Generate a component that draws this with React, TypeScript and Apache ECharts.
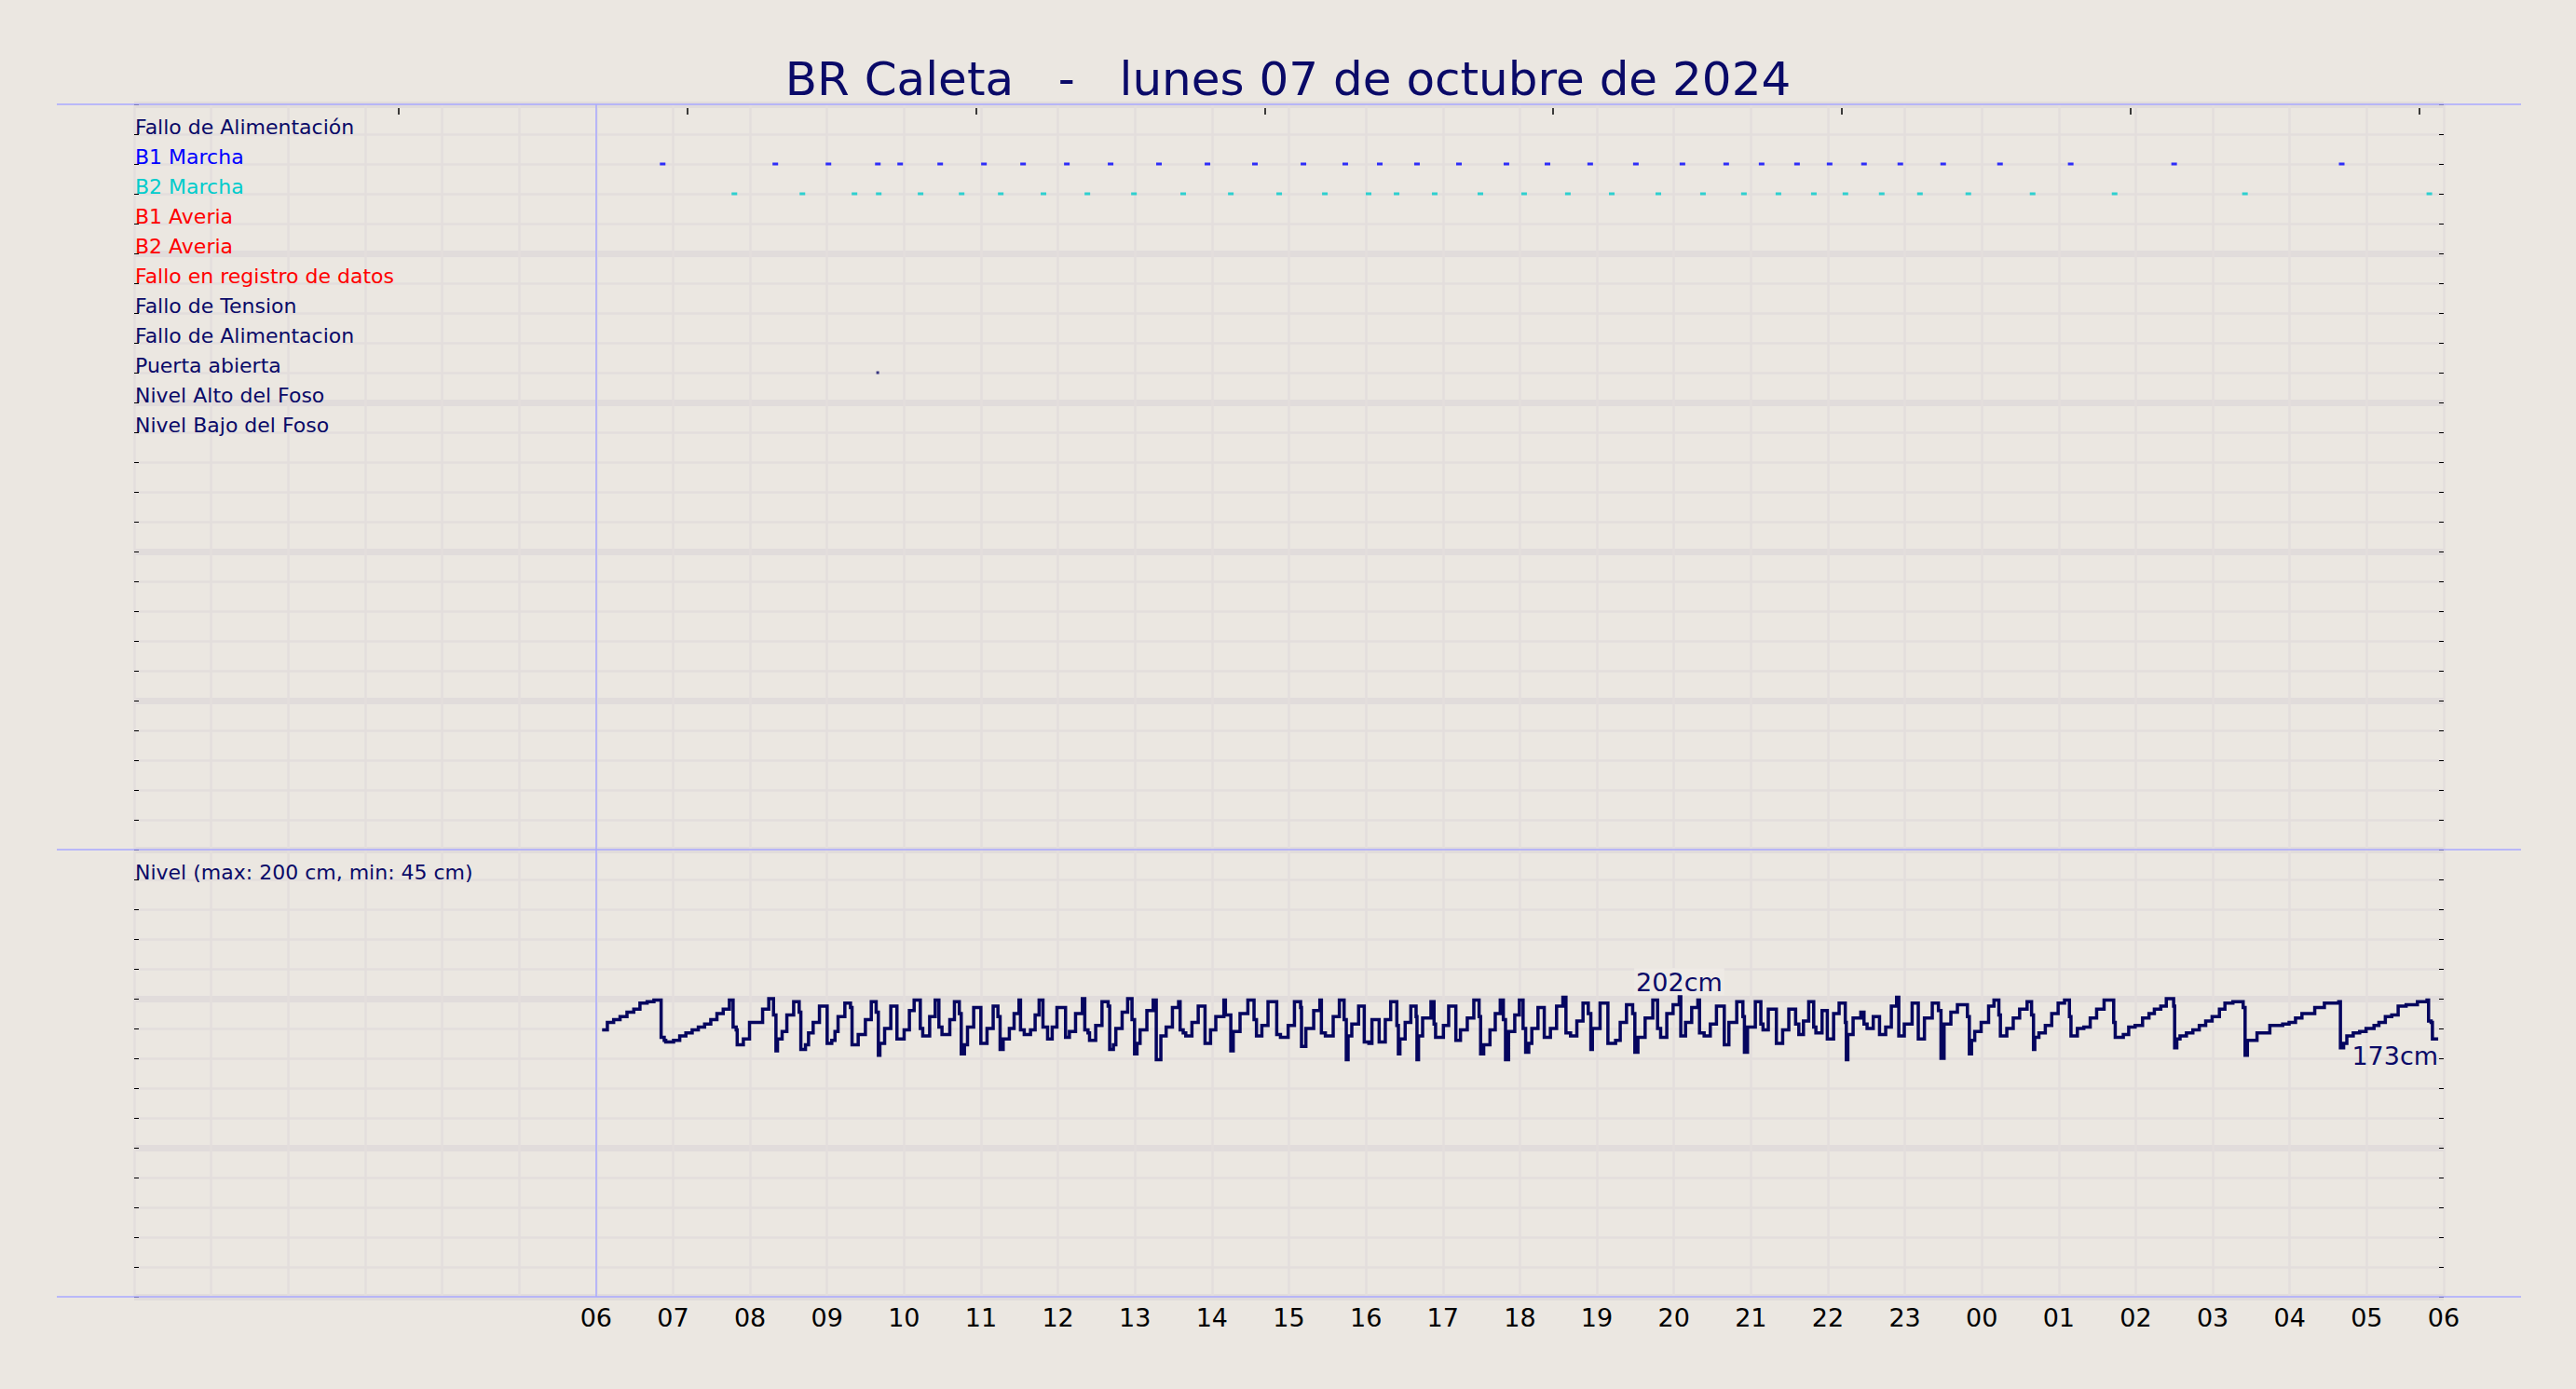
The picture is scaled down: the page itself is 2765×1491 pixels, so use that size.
import React, { useEffect, useRef } from 'react';
import * as echarts from 'echarts';

// ---------- texts ----------
const TITLE = 'BR Caleta   -   lunes 07 de octubre de 2024';
const upperLabels = [
  'Fallo de Alimentación',
  'B1 Marcha',
  'B2 Marcha',
  'B1 Averia',
  'B2 Averia',
  'Fallo en registro de datos',
  'Fallo de Tension',
  'Fallo de Alimentacion',
  'Puerta abierta',
  'Nivel Alto del Foso',
  'Nivel Bajo del Foso',
];
const NAVY = '#0a0a68';
const upperLabelColors = [NAVY, '#0000ff', '#00cccc', '#ff0000', '#ff0000', '#ff0000', NAVY, NAVY, NAVY, NAVY, NAVY];
const levelLabel = 'Nivel (max: 200 cm, min: 45 cm)';
const hourLabels = ['06', '07', '08', '09', '10', '11', '12', '13', '14', '15', '16', '17', '18', '19', '20', '21', '22', '23', '00', '01', '02', '03', '04', '05', '06'];
// top axis tick positions (minutes from 06:00)
const topTickMinutes = [-154, 71, 296, 521, 746, 971, 1196, 1421];

// ---------- events (minutes after 06:00) ----------
const b1MarchaMin = [51.9, 139.7, 181.1, 219.6, 237.0, 268.2, 302.3, 332.8, 366.9, 401.0, 438.7, 476.5, 513.5, 551.3, 583.9, 610.8, 639.8, 672.5, 709.5, 741.5, 774.8, 810.4, 846.7, 880.8, 908.4, 936.0, 961.4, 988.2, 1016.5, 1049.9, 1094.2, 1149.3, 1229.9, 1360.5];
const b2MarchaMin = [107.8, 160.8, 201.4, 220.3, 252.9, 284.9, 315.4, 348.7, 382.9, 419.2, 457.6, 494.7, 532.4, 568.0, 602.1, 623.9, 653.6, 689.2, 723.3, 757.4, 791.6, 827.9, 862.7, 894.6, 921.5, 949.1, 973.7, 1002.0, 1031.8, 1069.5, 1119.6, 1183.5, 1285.1, 1428.8];
const puertaAbiertaMin = [219.5];

// ---------- level readings [minutes after 06:00, cm] ----------
const levelReadings: [number, number][] = [
  [4.7, 179], [8.8, 184], [13.7, 186], [18.7, 188], [24.1, 191], [29.4, 193], [34.2, 197], [39.8, 198], [45.1, 199],
  [50.7, 174], [53.1, 172], [54.3, 171], [60.4, 172], [65.2, 175], [70.0, 177], [74.9, 179], [79.7, 181], [84.6, 183], [89.4, 186], [94.2, 190], [99.1, 193], [103.9, 199],
  [106.8, 181], [109.2, 179], [110.0, 169], [114.8, 173], [119.6, 184], [129.8, 193], [134.6, 200],
  [138.3, 189], [140.2, 165], [141.4, 173], [145.0, 178], [148.7, 189], [154.0, 198],
  [158.3, 191], [159.6, 166], [163.2, 169], [165.6, 177], [169.2, 184], [174.1, 195],
  [180.1, 170], [183.7, 172], [186.2, 178], [188.6, 188], [193.9, 197],
  [198.3, 194], [199.5, 169], [204.3, 176], [209.9, 186], [214.5, 198],
  [218.3, 191], [220.0, 162], [221.2, 170], [224.9, 180], [229.7, 195],
  [234.5, 173], [240.1, 179], [244.2, 192], [247.9, 199],
  [252.7, 180], [254.6, 175], [260.0, 188], [264.3, 199],
  [267.2, 181], [269.6, 176], [275.7, 186], [279.3, 198],
  [283.1, 190], [284.6, 163], [287.1, 169], [289.5, 181], [294.3, 194],
  [299.9, 170], [304.7, 180], [309.5, 195],
  [313.2, 188], [314.9, 166], [317.3, 173], [322.1, 180], [325.8, 190], [329.6, 199],
  [330.8, 179], [333.7, 176], [338.6, 179], [342.2, 189], [345.3, 199],
  [348.3, 181], [351.9, 173],
  [355.5, 181], [359.2, 194], [365.9, 174], [368.9, 178], [373.7, 190], [379.0, 200],
  [380.9, 179], [383.4, 177], [384.6, 172], [389.4, 182], [394.3, 198],
  [399.1, 195], [400.3, 166], [403.2, 169], [405.1, 180], [410.0, 191], [414.3, 200],
  [417.7, 186], [419.7, 163], [421.6, 170], [424.0, 179], [429.3, 192], [434.2, 199],
  [436.6, 159], [440.2, 175], [444.3, 181], [449.2, 194], [454.0, 198],
  [455.2, 179], [457.6, 177], [459.6, 175], [464.4, 184], [469.3, 195],
  [474.6, 170], [478.9, 179], [483.0, 188], [489.3, 199],
  [490.5, 189], [494.7, 165], [496.6, 178], [501.9, 190], [508.0, 199],
  [512.8, 186], [514.7, 175], [518.9, 182], [523.7, 198],
  [530.5, 176], [533.4, 174], [539.4, 182], [544.3, 198],
  [549.1, 194], [549.8, 168], [553.2, 180], [559.3, 192], [564.1, 199],
  [565.3, 177], [568.4, 175], [574.5, 188], [579.3, 199],
  [583.0, 186], [584.7, 159], [586.1, 175], [589.0, 183], [594.3, 195],
  [598.7, 171], [602.3, 170], [604.7, 186], [610.3, 171], [615.1, 186], [619.3, 198],
  [624.1, 182], [625.3, 163], [626.5, 173], [630.6, 184], [635.0, 195],
  [639.1, 188], [639.8, 159], [641.0, 175], [644.2, 187], [650.7, 198],
  [653.1, 183], [654.3, 174], [660.4, 182], [664.5, 195],
  [670.1, 172], [673.7, 179], [679.0, 187], [684.1, 199],
  [688.2, 188], [689.4, 163], [691.8, 169], [696.7, 179], [700.8, 190], [704.7, 199],
  [707.1, 186], [708.8, 159], [711.2, 178],
  [716.0, 189], [719.6, 199], [722.5, 180], [724.5, 164], [726.9, 170], [729.3, 180], [734.1, 194],
  [739.0, 174], [743.8, 180], [748.6, 195], [753.5, 201],
  [755.9, 177], [759.5, 175], [764.4, 185], [769.2, 197],
  [773.3, 190], [775.3, 166], [776.5, 180], [782.5, 197],
  [788.6, 170], [794.6, 172], [798.2, 184], [803.1, 196],
  [807.9, 190], [809.6, 164], [812.0, 174], [817.6, 187], [823.6, 199],
  [827.3, 180], [829.7, 174], [834.5, 190], [839.4, 196], [844.2, 202],
  [845.4, 175], [849.1, 184], [853.9, 194], [858.7, 199],
  [860.0, 177], [863.6, 175], [868.4, 183], [873.2, 195],
  [879.3, 169], [882.9, 184], [889.0, 198],
  [893.8, 188], [895.0, 164], [897.4, 181], [903.5, 198],
  [907.8, 183], [909.5, 179], [913.6, 193],
  [919.9, 170], [924.8, 179], [929.6, 193],
  [934.9, 183], [937.4, 176], [941.0, 185], [945.1, 198],
  [949.0, 181], [950.7, 177], [955.5, 192],
  [959.6, 173], [964.5, 190], [968.8, 197],
  [973.6, 184], [974.4, 159], [975.6, 176], [979.7, 187], [985.7, 191],
  [988.2, 183], [990.6, 180], [995.4, 188],
  [1000.3, 176], [1005.1, 181], [1009.5, 195], [1013.6, 201],
  [1015.3, 175], [1019.6, 183], [1025.7, 197],
  [1030.5, 173], [1035.3, 187], [1041.4, 197],
  [1046.2, 192], [1048.2, 160], [1050.6, 183], [1055.9, 191], [1061.0, 196],
  [1068.8, 188], [1070.3, 163], [1072.0, 172], [1074.5, 178], [1079.5, 184], [1085.3, 195], [1089.5, 199],
  [1093.3, 189], [1094.5, 175], [1099.5, 180], [1104.5, 187], [1109.5, 193], [1115.3, 198],
  [1118.8, 189], [1120.3, 166], [1121.3, 174], [1124.5, 177], [1129.5, 182], [1134.5, 190], [1139.5, 197], [1144.5, 199],
  [1148.3, 188], [1149.5, 175], [1154.5, 180], [1159.5, 181], [1164.5, 187], [1169.5, 193], [1175.3, 199],
  [1182.8, 184], [1184.0, 174], [1190.3, 176], [1194.5, 181], [1199.5, 182], [1205.3, 187], [1210.3, 190], [1214.5, 193], [1219.5, 195], [1223.8, 200],
  [1229.5, 195], [1230.3, 167], [1232.0, 173], [1234.5, 175], [1239.5, 177], [1244.5, 179], [1249.5, 182], [1254.5, 185], [1259.5, 188], [1265.2, 193], [1269.5, 197], [1275.7, 198],
  [1283.7, 194], [1285.2, 162], [1287.0, 172], [1294.5, 177], [1304.5, 182], [1314.5, 183], [1319.5, 184], [1324.5, 187], [1329.5, 190], [1339.5, 194], [1347.0, 197], [1358.2, 198],
  [1359.5, 167], [1362.0, 170], [1364.5, 175], [1369.5, 177], [1374.5, 178], [1379.5, 180], [1385.7, 182], [1389.5, 184], [1394.5, 188], [1399.5, 189], [1404.5, 195], [1410.7, 196], [1419.5, 198], [1427.0, 199],
  [1428.2, 185], [1430.2, 184], [1431.2, 173], [1435.7, 173],
];

// ---------- layout / style ----------
const W = 2765;
const H = 1491;
const GRID_LEFT = 144;
const GRID_RIGHT = W - 2623;
const TOP1 = 112;
const H1 = 800;
const TOP2 = TOP1 + H1;
const H2 = 480;
const BG = '#ebe7e1';
const GRID_MINOR = '#e3dedc';
const GRID_MAJOR = '#e1dcdb';
const BLUE = '#a9a9ff';
const LINE_NAVY = '#05055f';
const FONT = 'DejaVu Sans';

function buildOption(): any {
  let maxIdx = 0;
  levelReadings.forEach((r, i) => {
    if (r[1] > levelReadings[maxIdx][1]) maxIdx = i;
  });
  const maxPt = levelReadings[maxIdx];
  const lastPt = levelReadings[levelReadings.length - 1];

  const vLine06 = {
    silent: true,
    symbol: ['none', 'none'],
    label: { show: false },
    lineStyle: { color: BLUE, width: 1.5, type: 'solid' },
    data: [{ xAxis: 0 }],
  };

  const noLine = { show: false, onZero: false };

  const xCommon = {
    type: 'value',
    min: -360,
    max: 1440,
    interval: 60,
    axisLine: noLine,
    axisTick: { show: false },
  };

  const tickStyle = { show: true, inside: true, length: 5, lineStyle: { color: '#000', width: 1 } };

  const sideLabel = {
    show: true,
    inside: true,
    margin: 1,
    fontSize: 22,
    fontFamily: FONT,
    verticalAlign: 'bottom',
    lineHeight: 15,
  };

  return {
    animation: false,
    backgroundColor: BG,
    textStyle: { fontFamily: FONT },
    title: {
      text: TITLE,
      left: 'center',
      top: 53,
      textStyle: { fontSize: 50, fontWeight: 'normal', color: NAVY, fontFamily: FONT, lineHeight: 54 },
    },
    grid: [
      { left: GRID_LEFT, right: GRID_RIGHT, top: TOP1, height: H1 },
      { left: GRID_LEFT, right: GRID_RIGHT, top: TOP2, height: H2 },
    ],
    xAxis: [
      {
        ...xCommon,
        gridIndex: 0,
        position: 'bottom',
        axisLabel: { show: false },
        splitLine: { show: true, lineStyle: { color: GRID_MINOR, width: 2.5 } },
      },
      {
        type: 'value',
        gridIndex: 0,
        min: -360,
        max: 1440,
        position: 'top',
        offset: -4,
        axisLine: noLine,
        axisLabel: { show: false },
        splitLine: { show: false },
        axisTick: { show: true, inside: true, length: 7, lineStyle: { color: '#000', width: 1.5 }, customValues: topTickMinutes },
      },
      {
        ...xCommon,
        gridIndex: 1,
        position: 'bottom',
        splitLine: { show: true, lineStyle: { color: GRID_MINOR, width: 2.5 } },
        axisLabel: {
          show: true,
          formatter: (v: number) => (v < 0 ? '' : hourLabels[Math.round(v / 60)] ?? ''),
          fontSize: 27,
          color: '#000',
          fontFamily: FONT,
          margin: 6,
          lineHeight: 32,
        },
      },
    ],
    yAxis: [
      {
        type: 'value',
        gridIndex: 0,
        min: 0,
        max: 25,
        interval: 1,
        position: 'left',
        axisLine: noLine,
        axisTick: tickStyle,
        splitLine: { show: true, lineStyle: { color: GRID_MINOR, width: 2.5 } },
        axisLabel: {
          ...sideLabel,
          formatter: (v: number) => upperLabels[24 - Number(v)] ?? '',
          color: (v: any) => upperLabelColors[24 - Number(v)] ?? NAVY,
        },
      },
      {
        type: 'value',
        gridIndex: 0,
        min: 0,
        max: 25,
        interval: 1,
        position: 'right',
        axisLine: noLine,
        axisTick: tickStyle,
        axisLabel: { show: false },
        splitLine: { show: false },
      },
      {
        type: 'value',
        gridIndex: 0,
        min: 0,
        max: 25,
        interval: 5,
        position: 'right',
        axisLine: noLine,
        axisTick: { show: false },
        axisLabel: { show: false },
        splitLine: { show: true, lineStyle: { color: GRID_MAJOR, width: 7 } },
      },
      {
        type: 'value',
        gridIndex: 1,
        min: 0,
        max: 300,
        interval: 20,
        position: 'left',
        axisLine: noLine,
        axisTick: tickStyle,
        splitLine: { show: true, lineStyle: { color: GRID_MINOR, width: 2.5 } },
        axisLabel: {
          ...sideLabel,
          color: NAVY,
          formatter: (v: number) => (Number(v) === 280 ? levelLabel : ''),
        },
      },
      {
        type: 'value',
        gridIndex: 1,
        min: 0,
        max: 300,
        interval: 20,
        position: 'right',
        axisLine: noLine,
        axisTick: tickStyle,
        axisLabel: { show: false },
        splitLine: { show: false },
      },
      {
        type: 'value',
        gridIndex: 1,
        min: 0,
        max: 300,
        interval: 100,
        position: 'right',
        axisLine: noLine,
        axisTick: { show: false },
        axisLabel: { show: false },
        splitLine: { show: true, lineStyle: { color: GRID_MAJOR, width: 7 } },
      },
    ],
    series: [
      {
        name: 'B1 Marcha',
        type: 'scatter',
        xAxisIndex: 0,
        yAxisIndex: 0,
        symbol: 'rect',
        symbolSize: [6, 3],
        itemStyle: { color: '#0000ff' },
        data: b1MarchaMin.map((m) => [m, 24 - 1]),
        markLine: vLine06,
        z: 3,
      },
      {
        name: 'B2 Marcha',
        type: 'scatter',
        xAxisIndex: 0,
        yAxisIndex: 0,
        symbol: 'rect',
        symbolSize: [6, 3],
        itemStyle: { color: '#00cccc' },
        data: b2MarchaMin.map((m) => [m, 24 - 2]),
        z: 3,
      },
      {
        name: 'Puerta abierta',
        type: 'scatter',
        xAxisIndex: 0,
        yAxisIndex: 0,
        symbol: 'rect',
        symbolSize: [3, 3],
        itemStyle: { color: NAVY },
        data: puertaAbiertaMin.map((m) => [m, 24 - 8]),
        z: 3,
      },
      {
        name: 'Nivel',
        type: 'line',
        xAxisIndex: 2,
        yAxisIndex: 3,
        step: 'end',
        showSymbol: false,
        symbol: 'none',
        lineStyle: { color: LINE_NAVY, width: 3.5, join: 'miter' },
        data: levelReadings,
        markLine: vLine06,
        markPoint: {
          symbol: 'rect',
          symbolSize: 1,
          itemStyle: { color: 'rgba(0,0,0,0)' },
          label: {
            show: true,
            fontSize: 27,
            fontFamily: FONT,
            color: NAVY,
            lineHeight: 24,
            formatter: (p: any) => `${p.value}cm`,
          },
          data: [
            {
              coord: [maxPt[0], maxPt[1]],
              value: maxPt[1],
              label: {
                position: 'top',
                distance: 0,
                backgroundColor: '#eeeae5',
                padding: [3, 2, 2, 2],
              },
            },
            {
              coord: [lastPt[0], lastPt[1]],
              value: lastPt[1],
              label: {
                position: 'bottom',
                align: 'right',
                distance: 0,
                padding: [6, 0, 2, 0],
              },
            },
          ],
        },
        z: 4,
      },
    ],
    graphic: [TOP1, TOP2, TOP2 + H2].map((y) => ({
      type: 'line',
      silent: true,
      z: 100,
      shape: { x1: 61, y1: y, x2: 2706, y2: y },
      style: { stroke: BLUE, lineWidth: 1.5 },
    })),
  };
}

export default function App() {
  const ref = useRef<HTMLDivElement>(null);
  useEffect(() => {
    document.body.style.margin = '0';
    const chart = echarts.init(ref.current as HTMLDivElement, null, { renderer: 'svg', width: W, height: H });
    chart.setOption(buildOption());
    return () => chart.dispose();
  }, []);
  return <div ref={ref} style={{ position: 'absolute', left: 0, top: 0, width: W, height: H }} />;
}
